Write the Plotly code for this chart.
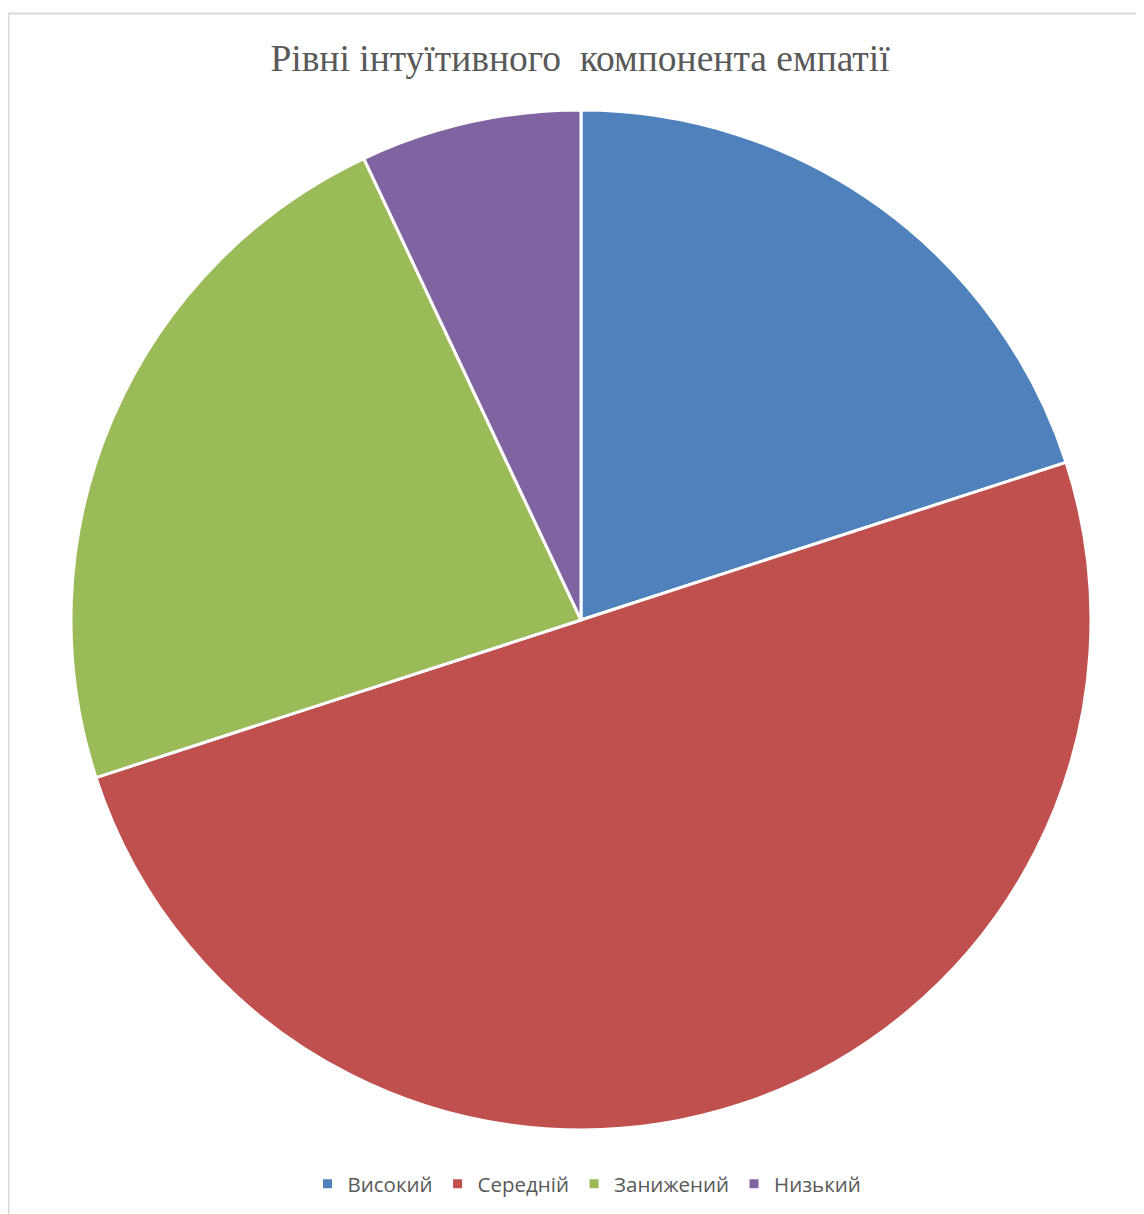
import plotly.graph_objects as go

labels = ["Високий", "Середній", "Занижений", "Низький"]
values = [20, 50, 23, 7]
colors = ["#4F81BD", "#C0504D", "#9BBB59", "#8064A2"]
title_text = "Рівні інтуїтивного \u00a0компонента емпатії"

W, H = 1144, 1214
OFF = 8  # page body margin
cx, cy, r = 581 - OFF, 620 - OFF, 510

fig = go.Figure(go.Pie(
    labels=labels, values=values, sort=False, direction="clockwise", rotation=0,
    marker=dict(colors=colors, line=dict(color="white", width=3)),
    textinfo="none", hoverinfo="label+percent",
    domain=dict(x=[(cx - r) / W, (cx + r) / W], y=[1 - (cy + r) / H, 1 - (cy - r) / H]),
))

fig.update_layout(
    width=W, height=H, margin=dict(l=0, r=0, t=0, b=0),
    paper_bgcolor="white",
    title=dict(text=title_text, x=(580 - OFF) / W, xanchor="center", y=1 - (58 - OFF) / H, yanchor="middle",
               font=dict(family="Liberation Serif", size=37.5, color="#595959")),
    legend=dict(orientation="h", x=(587 - OFF) / W, xanchor="center", y=1 - (1184 - OFF) / H, yanchor="middle",
                font=dict(family="Open Sans", size=20.5, color="#595959"), itemwidth=30),
    shapes=[dict(type="rect", xref="paper", yref="paper", x0=(8.5 - OFF) / W, x1=1.02,
                 y0=-0.02, y1=1 - (13.5 - OFF) / H, line=dict(color="#D9D9D9", width=2))],
)

fig.write_html("out.html")
